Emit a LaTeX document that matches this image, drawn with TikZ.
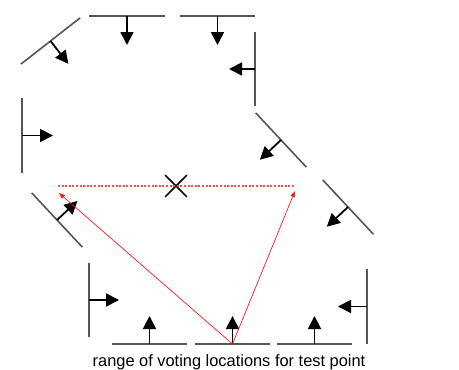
\documentclass[tikz,border=0pt]{standalone}
\usepackage{fontspec}
\setmainfont{Liberation Sans}
\usetikzlibrary{arrows.meta, shapes.misc}
\definecolor{wallgray}{HTML}{555555}
\definecolor{rangered}{HTML}{FF1A1A}

\begin{document}
\begin{tikzpicture}[x=1pt, y=-1pt,
    wall/.style={wallgray, line width=1.6pt},
    vote/.style={black, line width=1.8pt, -{Triangle[length=13pt, width=13pt]}},
    reach/.style={rangered, line width=0.7pt, -{Triangle[length=6pt, width=4.5pt]}},
    span/.style={rangered!80, line width=1.3pt, dash pattern=on 2pt off 1.6pt}]
  \useasboundingbox (0,0) rectangle (459,370);

  % --- upper ring of voters ---
  \coordinate (tl)   at (50.5,41);
  \coordinate (top1) at (127,16);
  \coordinate (top2) at (217.5,16);
  \coordinate (rv)   at (255,69);
  \draw[wall] (tl)   ++(-38:37.5) -- ++(142:75);  \draw[vote] (tl)   -- ++(52:29);
  \draw[wall] (top1) ++(0:38)     -- ++(180:76);  \draw[vote] (top1) -- ++(90:29);
  \draw[wall] (top2) ++(0:37.5)   -- ++(180:75);  \draw[vote] (top2) -- ++(90:29);
  \draw[wall] (rv)   ++(90:37)    -- ++(270:74);  \draw[vote] (rv)   -- ++(180:26);

  % --- middle ---
  \coordinate (lv)  at (22,135.5);
  \coordinate (rd1) at (281,140);
  \coordinate (ld)  at (57,220);
  \coordinate (rd2) at (348,207);
  \draw[wall] (lv)  ++(90:37.5) -- ++(270:75);  \draw[vote] (lv)  -- ++(0:31);
  \draw[wall] (rd1) ++(47:37)   -- ++(227:74);  \draw[vote] (rd1) -- ++(137:29);
  \draw[wall] (ld)  ++(47:37)   -- ++(227:74);  \draw[vote] (ld)  -- ++(-43:28);
  \draw[wall] (rd2) ++(47:37)   -- ++(227:74);  \draw[vote] (rd2) -- ++(137:29);

  % --- lower ring ---
  \coordinate (blv) at (89,300);
  \coordinate (bot1) at (149.5,344);
  \coordinate (bot2) at (232.5,344);
  \coordinate (bot3) at (314.5,344);
  \coordinate (brv) at (367,306.5);
  \draw[wall] (blv)  ++(90:37)   -- ++(270:74);  \draw[vote] (blv)  -- ++(0:30);
  \draw[wall] (bot1) ++(0:37.5)  -- ++(180:75);  \draw[vote] (bot1) -- ++(270:28);
  \draw[wall] (bot2) ++(0:37.5)  -- ++(180:75);  \draw[vote] (bot2) -- ++(270:28);
  \draw[wall] (bot3) ++(0:37.5)  -- ++(180:75);  \draw[vote] (bot3) -- ++(270:28);
  \draw[wall] (brv)  ++(90:37.5) -- ++(270:75);  \draw[vote] (brv)  -- ++(180:29);

  % --- test point and its voting range ---
  \coordinate (spanL) at (58,186);
  \coordinate (spanR) at (294,186);
  \node[draw, cross out, line width=1.6pt, minimum size=20pt, inner sep=0pt] (test) at (176,186) {};
  \draw[span] (spanL) -- (spanR);
  \coordinate (nearL) at (59,193);
  \coordinate (farR)  at (295,191);
  \draw[reach] (bot2) -- (nearL);
  \draw[reach] (bot2) -- (farR);

  \node[anchor=base, font=\fontsize{16.4}{20}\selectfont] (caption) at (229,366)
    {range of voting locations for test point};
\end{tikzpicture}
\end{document}
